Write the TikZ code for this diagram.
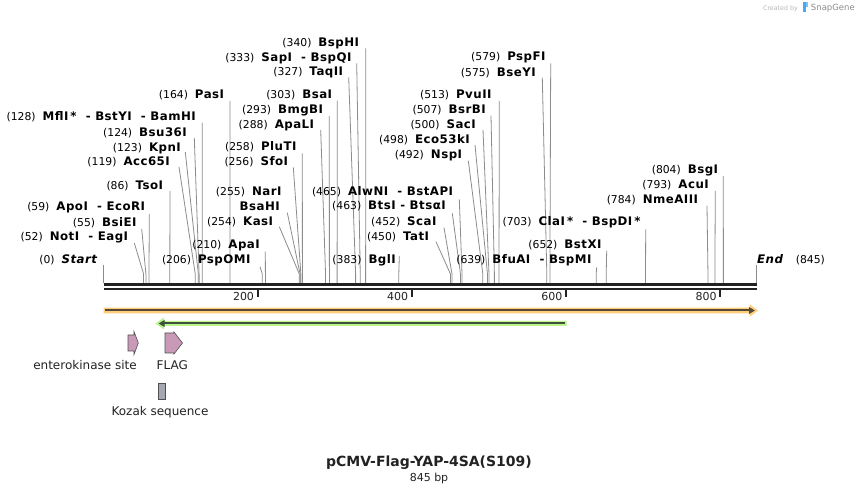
\documentclass[tikz,border=0pt]{standalone}
\usepackage{fontspec}
\setmainfont{DejaVu Sans}
\newfontfamily\namefamily[LetterSpace=4]{DejaVu Sans}
\usetikzlibrary{arrows.meta}
\definecolor{enzl}{RGB}{140,140,140}
\definecolor{barc}{RGB}{34,34,34}
\definecolor{orhalo}{RGB}{254,206,125}
\definecolor{orline}{RGB}{85,72,55}
\definecolor{grhalo}{RGB}{186,245,140}
\definecolor{grline}{RGB}{65,80,58}
\definecolor{featpink}{RGB}{201,154,184}
\definecolor{featgray}{RGB}{164,168,176}
\definecolor{featedge}{RGB}{80,80,80}
\definecolor{sgblue}{RGB}{70,170,240}
\newcommand\numtxt[1]{{\fontsize{10.8}{12}\selectfont(#1)}}
\newcommand\nametxt[1]{{\namefamily\fontsize{11.8}{13}\selectfont\bfseries #1}}
% #1 id, #2 number, #3 names, #4 right x, #5 y, #6 top x, #7 top y, #8 site (bp)
\newcommand\renz[8]{%
  \node[enzlabel] (L#1) at ({#4},{#5+4}) {\numtxt{#2}\hspace{7pt}\nametxt{#3}};
  \coordinate (T#1) at ({#6},{#7});
  \coordinate (K#1) at ({103.5+#8*0.771},274);
  \coordinate (S#1) at ({103.5+#8*0.771},283.5);
  \draw[enzline] (T#1) -- (K#1) -- (S#1);
}
\begin{document}
\begin{tikzpicture}[x=1pt,y=-1pt,
  enzlabel/.style={anchor=base east,inner sep=0pt,text=black},
  enzline/.style={draw=enzl,line width=0.8pt},
  barline/.style={draw=barc},
  ticklabel/.style={anchor=base east,inner sep=0pt,font=\fontsize{11}{12}\selectfont,text=barc},
  featlabel/.style={inner sep=0pt,font=\fontsize{12}{14}\selectfont,text=barc},
  featshape/.style={draw=featedge,line width=0.6pt,line join=miter}]
\useasboundingbox[fill=white] (0,0) rectangle (860,494);

% watermark
\node[anchor=base east,inner sep=0pt,font=\fontsize{8.5}{10}\selectfont,text=black!45] (sgname) at (855,11) {SnapGene};
\node[anchor=base east,inner sep=0pt,font=\fontsize{6.3}{8}\selectfont,text=black!28] (sgby) at (798,11) {Created by};
\fill[sgblue] (803,2.5) rectangle (805.5,12.5);
\fill[sgblue!70] (805.5,2.5) rectangle (808,7.5);

% enzymes
\renz{mfl}{128}{MflI\,*\ \ - BstYI\ \ - BamHI}{196}{116.7}{202.3}{123}{128}
\renz{bsu}{124}{Bsu36I}{187}{132.3}{194.3}{138}{124}
\renz{kpn}{123}{KpnI}{181}{147.3}{185.3}{152}{123}
\renz{acc}{119}{Acc65I}{170}{161.7}{179}{167}{119}
\renz{tso}{86}{TsoI}{163.3}{185.3}{170}{191}{86}
\renz{apo}{59}{ApoI\ \ - EcoRI}{145.3}{206.7}{149.3}{214}{59}
\renz{bsie}{55}{BsiEI}{136.7}{222.3}{141.7}{229}{55}
\renz{not}{52}{NotI\ \ - EagI}{128.3}{236.7}{134.3}{243}{52}
\renz{pas}{164}{PasI}{224.3}{95}{230}{101}{164}
\renz{apa}{210}{ApaI}{260}{245}{265.3}{251.7}{210}
\renz{psp}{206}{PspOMI}{250.7}{260}{260}{266.7}{206}
\renz{kas}{254}{KasI}{273.3}{221.7}{279.3}{226.7}{254}
\node[enzlabel] (Lnar) at (281.7,196) {\numtxt{255}\hspace{7pt}\nametxt{NarI}};
\node[enzlabel] (Lbsah) at (280,210.7) {\nametxt{BsaHI}};
\coordinate (Tbsah) at (287.3,212.7);
\coordinate (Kbsah) at ({103.5+255*0.771},274);
\coordinate (Sbsah) at ({103.5+255*0.771},283.5);
\draw[enzline] (Tbsah) -- (Kbsah) -- (Sbsah);
\renz{sfo}{256}{SfoI}{288.3}{161.7}{293.3}{167.3}{256}
\renz{plu}{258}{PluTI}{296.7}{146.7}{302.3}{153.3}{258}
\renz{apal}{288}{ApaLI}{314.3}{125}{320.7}{130}{288}
\renz{bmg}{293}{BmgBI}{323.3}{110}{329.3}{116}{293}
\renz{bsa}{303}{BsaI}{332.3}{95}{337.3}{100.7}{303}
\renz{taq}{327}{TaqII}{343.3}{71.7}{348.7}{77.3}{327}
\renz{sap}{333}{SapI\ \ - BspQI}{351.7}{57.3}{356.7}{63.3}{333}
\renz{bsph}{340}{BspHI}{359.3}{42.7}{365.7}{48.3}{340}
\renz{bgl}{383}{BglI}{396}{260}{399.3}{256}{383}
\renz{alw}{465}{AlwNI\ \ - BstAPI}{453.3}{191.7}{459.3}{199.3}{465}
\renz{bts}{463}{BtsI - BtsαI}{446}{206}{452.3}{213.3}{463}
\renz{sca}{452}{ScaI}{436.7}{221.7}{444}{227.7}{452}
\renz{tat}{450}{TatI}{429.3}{236.7}{436}{241.7}{450}
\renz{nsp}{492}{NspI}{462.3}{155}{468.3}{160.7}{492}
\renz{eco}{498}{Eco53kI}{470}{140}{475}{145}{498}
\renz{sac}{500}{SacI}{476}{125}{483}{130}{500}
\renz{bsr}{507}{BsrBI}{486}{110}{491}{115.7}{507}
\renz{pvu}{513}{PvuII}{491.7}{94.3}{499.3}{101}{513}
\renz{bsey}{575}{BseYI}{536}{72.3}{542.3}{77.7}{575}
\renz{pspf}{579}{PspFI}{545.7}{56.7}{550.7}{63.3}{579}
\renz{bfu}{639}{BfuAI\ \ - BspMI}{591.7}{260}{596.7}{267.3}{639}
\renz{bstx}{652}{BstXI}{601.7}{245}{606.7}{251}{652}
\renz{cla}{703}{ClaI\,*\ \ - BspDI\,*}{640.7}{221.7}{645.7}{229.3}{703}
\renz{nme}{784}{NmeAIII}{698.3}{200}{707}{205.7}{784}
\renz{acu}{793}{AcuI}{709}{185}{715.3}{191}{793}
\renz{bsg}{804}{BsgI}{718.3}{170}{723.3}{176}{804}

% start / end
\node[enzlabel] (Lstart) at (97.3,264) {\numtxt{0}\hspace{7pt}\nametxt{\itshape Start}};
\coordinate (Tstart) at (103.5,265);
\coordinate (Sstart) at (103.5,283.5);
\draw[enzline] (Tstart) -- (Sstart);
\node[anchor=base west,inner sep=0pt] (Lend) at (757,264) {\nametxt{\itshape End}};
\node[anchor=base west,inner sep=0pt] (Lendn) at (795.7,264) {\numtxt{845}};
\coordinate (Tend) at (756,265);
\coordinate (Send) at (756,283.5);
\draw[enzline] (Tend) -- (Send);

% sequence bar
\coordinate (b1l) at (103.5,285);
\coordinate (b1r) at (756.5,285);
\coordinate (b2l) at (103.5,289.3);
\coordinate (b2r) at (756.5,289.3);
\draw[barline,line width=3pt] (b1l) -- (b1r);
\draw[barline,line width=2pt] (b2l) -- (b2r);
\foreach \t in {200,400,600,800}{
  \coordinate (tk\t) at ({103.5+\t*0.771},289);
  \coordinate (tb\t) at ({103.5+\t*0.771},297.5);
  \draw[barline,line width=1.8pt] (tk\t) -- (tb\t);
  \node[ticklabel] (tl\t) at ({103.5+\t*0.771-3.5},300.7) {\t};
}

% orange arrow (forward)
\fill[orhalo] (103.5,307.7) -- (749.5,307.7) -- (749.5,304.2) -- (758,310.5) -- (749.5,316.8) -- (749.5,313.3) -- (103.5,313.3) -- cycle;
\coordinate (oa) at (105,310.5);
\coordinate (ob) at (755,310.5);
\draw[orline,line width=2pt,-{Triangle[length=6pt,width=6.5pt]}] (oa) -- (ob);

% green arrow (reverse)
\fill[grhalo] (566.7,321) -- (164,321) -- (164,317.5) -- (155.5,323.5) -- (164,329.5) -- (164,326) -- (566.7,326) -- cycle;
\coordinate (ga) at (565,323.5);
\coordinate (gb) at (158.5,323.5);
\draw[grline,line width=2pt,-{Triangle[length=6pt,width=6.5pt]}] (ga) -- (gb);

% features
\draw[featshape,fill=featpink] (128,335) -- (134,335) -- (134,331.5) -- (138.3,343) -- (134,354.5) -- (134,351) -- (128,351) -- cycle;
\draw[featshape,fill=featpink] (165,333) -- (174,333) -- (174,332) -- (182.5,343) -- (174,354) -- (174,353) -- (165,353) -- cycle;
\draw[featshape,fill=featgray] (158.3,383.3) rectangle (165.7,399.3);
\node[featlabel] (fEK) at (85,365) {enterokinase site};
\node[featlabel] (fFL) at (172.3,365) {FLAG};
\node[featlabel] (fKZ) at (160,411.7) {Kozak sequence};

% title
\node[inner sep=0pt,font=\fontsize{14}{16}\selectfont\bfseries,text=barc] (title) at (429,463) {pCMV-Flag-YAP-4SA(S109)};
\node[inner sep=0pt,font=\fontsize{11}{12}\selectfont,text=barc] (len) at (429,478) {845 bp};
\end{tikzpicture}
\end{document}
